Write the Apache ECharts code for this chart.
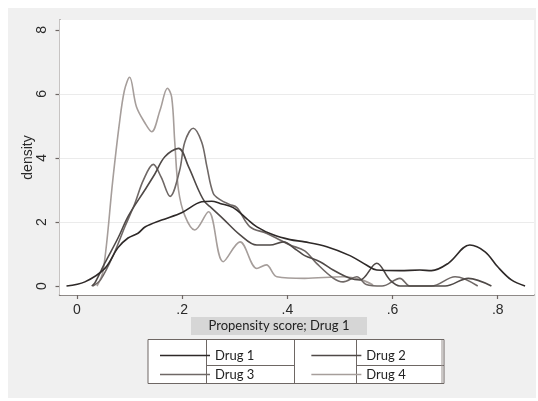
<!DOCTYPE html>
<html>
<head>
<meta charset="utf-8">
<script src="https://cdn.jsdelivr.net/npm/echarts@6/dist/echarts.min.js"></script>
<style>
html,body{margin:0;padding:0;background:#ffffff;}
#chart{width:538px;height:401px;}
</style>
</head>
<body>
<div id="chart"></div>
<script>
// ---- data ----
const drugNames = ['Drug 1', 'Drug 2', 'Drug 3', 'Drug 4'];

const drug1X = [-0.02, 0.015, 0.053, 0.078, 0.097, 0.116, 0.13, 0.161, 0.2, 0.237, 0.256, 0.272, 0.297, 0.323, 0.342, 0.373, 0.405, 0.433, 0.475, 0.519, 0.551, 0.57, 0.614, 0.652, 0.674, 0.706, 0.747, 0.776, 0.8, 0.826, 0.852];
const drug1Y = [0, 0.13, 0.55, 1.2, 1.5, 1.65, 1.85, 2.06, 2.3, 2.63, 2.65, 2.58, 2.45, 2.1, 1.85, 1.6, 1.45, 1.38, 1.23, 0.95, 0.65, 0.5, 0.48, 0.5, 0.48, 0.71, 1.28, 1.07, 0.6, 0.19, 0];

const drug2X = [0.028, 0.034, 0.053, 0.078, 0.098, 0.129, 0.148, 0.167, 0.193, 0.212, 0.231, 0.243, 0.253, 0.278, 0.31, 0.342, 0.367, 0.392, 0.418, 0.433, 0.462, 0.487, 0.519, 0.538, 0.57, 0.595, 0.614, 0.66, 0.7, 0.744, 0.788];
const drug2Y = [0, 0.1, 0.72, 1.5, 2.2, 3.0, 3.5, 4.04, 4.3, 3.73, 3.0, 2.63, 2.48, 2.1, 1.6, 1.28, 1.28, 1.38, 1.12, 0.95, 0.76, 0.5, 0.24, 0.19, 0.71, 0.19, 0, 0, 0, 0.24, 0];

const drug3X = [0.03, 0.045, 0.07, 0.091, 0.11, 0.126, 0.145, 0.16, 0.177, 0.195, 0.205, 0.221, 0.237, 0.247, 0.259, 0.272, 0.29, 0.304, 0.329, 0.36, 0.386, 0.405, 0.433, 0.456, 0.487, 0.506, 0.532, 0.55, 0.58, 0.614, 0.633, 0.674, 0.719, 0.762];
const drug3Y = [0, 0.2, 1.0, 1.85, 2.58, 3.3, 3.8, 3.4, 2.8, 3.6, 4.5, 4.93, 4.5, 3.73, 2.9, 2.7, 2.55, 2.45, 1.85, 1.65, 1.44, 1.28, 1.1, 0.7, 0.25, 0.13, 0.29, 0.05, 0, 0.24, 0, 0, 0.29, 0];

const drug4X = [0.038, 0.05, 0.068, 0.08, 0.09, 0.1, 0.113, 0.129, 0.142, 0.158, 0.172, 0.18, 0.186, 0.193, 0.205, 0.224, 0.25, 0.278, 0.31, 0.342, 0.36, 0.38, 0.433, 0.506, 0.54, 0.563];
const drug4Y = [0, 0.5, 3.3, 5.0, 6.1, 6.52, 5.6, 5.1, 4.82, 5.5, 6.18, 5.9, 4.47, 3.0, 2.2, 1.75, 2.32, 0.76, 1.38, 0.55, 0.66, 0.29, 0.24, 0.29, 0.2, 0.03];

const xTicks = [0, 0.2, 0.4, 0.6, 0.8];
const yTicks = [0, 2, 4, 6, 8];
const gridValues = [2, 4, 6];
const xTitle = 'Propensity score; Drug 1';
const yTitle = 'density';

// ---- build ----
const seriesX = [drug1X, drug2X, drug3X, drug4X];
const seriesY = [drug1Y, drug2Y, drug3Y, drug4Y];
const colors = ['#2e2928', '#4f4947', '#6f6866', '#a69e9b'];

function pairs(xs, ys) { return xs.map((x, i) => [x, ys[i]]); }
function fmtX(v) { return v === 0 ? '0' : String(v).replace(/^0/, ''); }

const series = drugNames.map((name, i) => ({
  name: name,
  type: 'line',
  data: pairs(seriesX[i], seriesY[i]),
  smooth: 0.35,
  symbol: 'none',
  lineStyle: { color: colors[i], width: 1.6 },
  itemStyle: { color: colors[i] },
  z: 10 - i,
  silent: true
}));

series.push({
  name: 'grid',
  type: 'line',
  data: [],
  silent: true,
  z: 1,
  markLine: {
    silent: true,
    symbol: 'none',
    label: { show: false },
    lineStyle: { color: '#ebebeb', width: 1, type: 'solid' },
    data: gridValues.map(v => ({ yAxis: v }))
  }
});

const legendText = { color: '#222', fontSize: 13, fontFamily: 'Lato', width: 40 };

const chart = echarts.init(document.getElementById('chart'), null, { renderer: 'canvas' });
chart.setOption({
  animation: false,
  backgroundColor: '#ffffff',
  grid: {
    left: 59.5, right: 4, top: 20, bottom: 106,
    show: true, backgroundColor: '#ffffff', borderWidth: 0, z: 1
  },
  xAxis: {
    type: 'value',
    min: -0.0333, max: 0.869,
    axisLine: { onZero: false, lineStyle: { color: '#6e6764', width: 1.5 } },
    axisTick: { show: true, length: 4, customValues: xTicks, lineStyle: { color: '#6e6764', width: 1.2 } },
    axisLabel: { customValues: xTicks, formatter: fmtX, margin: 8, color: '#2a2a2a', fontSize: 14, fontFamily: 'Liberation Sans' },
    splitLine: { show: false }
  },
  yAxis: {
    type: 'value',
    min: -0.28, max: 8.31,
    name: yTitle,
    nameLocation: 'middle',
    nameGap: 24,
    nameRotate: 90,
    nameMoveOverlap: false,
    nameTextStyle: { color: '#2a2a2a', fontSize: 14, fontFamily: 'Liberation Sans' },
    axisLine: { onZero: false, lineStyle: { color: '#6e6764', width: 1.5 } },
    axisTick: { show: true, length: 4, customValues: yTicks, lineStyle: { color: '#6e6764', width: 1.2 } },
    axisLabel: { customValues: yTicks, rotate: 90, margin: 10, color: '#2a2a2a', fontSize: 14, fontFamily: 'Liberation Sans' },
    splitLine: { show: false }
  },
  legend: [
    {
      data: ['Drug 1', 'Drug 2'], left: 155, top: 344, itemWidth: 50, itemHeight: 1.6, itemGap: 57,
      icon: 'rect', selectedMode: false, textStyle: legendText
    },
    {
      data: ['Drug 3', 'Drug 4'], left: 155, top: 363, itemWidth: 50, itemHeight: 1.6, itemGap: 57,
      icon: 'rect', selectedMode: false, textStyle: legendText
    }
  ],
  graphic: [
    { type: 'rect', shape: { x: 8, y: 8, width: 528, height: 390 }, style: { fill: '#f0f0f0' }, z: -10, silent: true },
    { type: 'rect', shape: { x: 191, y: 317, width: 176, height: 18 }, style: { fill: '#d6d6d6' }, z: 5, silent: true },
    { type: 'text', x: 279, y: 326, style: { text: xTitle, fill: '#222', font: '13px Lato', align: 'center', verticalAlign: 'middle' }, z: 6, silent: true },
    // legend table lines
    { type: 'rect', shape: { x: 148, y: 339.5, width: 296, height: 44 }, style: { fill: '#ffffff', stroke: '#6e6764', lineWidth: 1 }, z: 2, silent: true },
    { type: 'line', shape: { x1: 206.5, y1: 339.5, x2: 206.5, y2: 383.5 }, style: { stroke: '#6e6764', lineWidth: 1 }, z: 3, silent: true },
    { type: 'line', shape: { x1: 294.5, y1: 339.5, x2: 294.5, y2: 383.5 }, style: { stroke: '#6e6764', lineWidth: 1 }, z: 3, silent: true },
    { type: 'line', shape: { x1: 356.5, y1: 339.5, x2: 356.5, y2: 383.5 }, style: { stroke: '#6e6764', lineWidth: 1 }, z: 3, silent: true },
    { type: 'line', shape: { x1: 206.5, y1: 365.5, x2: 294.5, y2: 365.5 }, style: { stroke: '#6e6764', lineWidth: 1 }, z: 3, silent: true },
    { type: 'line', shape: { x1: 356.5, y1: 365.5, x2: 444, y2: 365.5 }, style: { stroke: '#6e6764', lineWidth: 1 }, z: 3, silent: true },
    { type: 'line', shape: { x1: 442, y1: 340, x2: 442, y2: 383 }, style: { stroke: '#9a9390', lineWidth: 1 }, z: 3, silent: true }
  ],
  series: series
});
</script>
</body>
</html>
